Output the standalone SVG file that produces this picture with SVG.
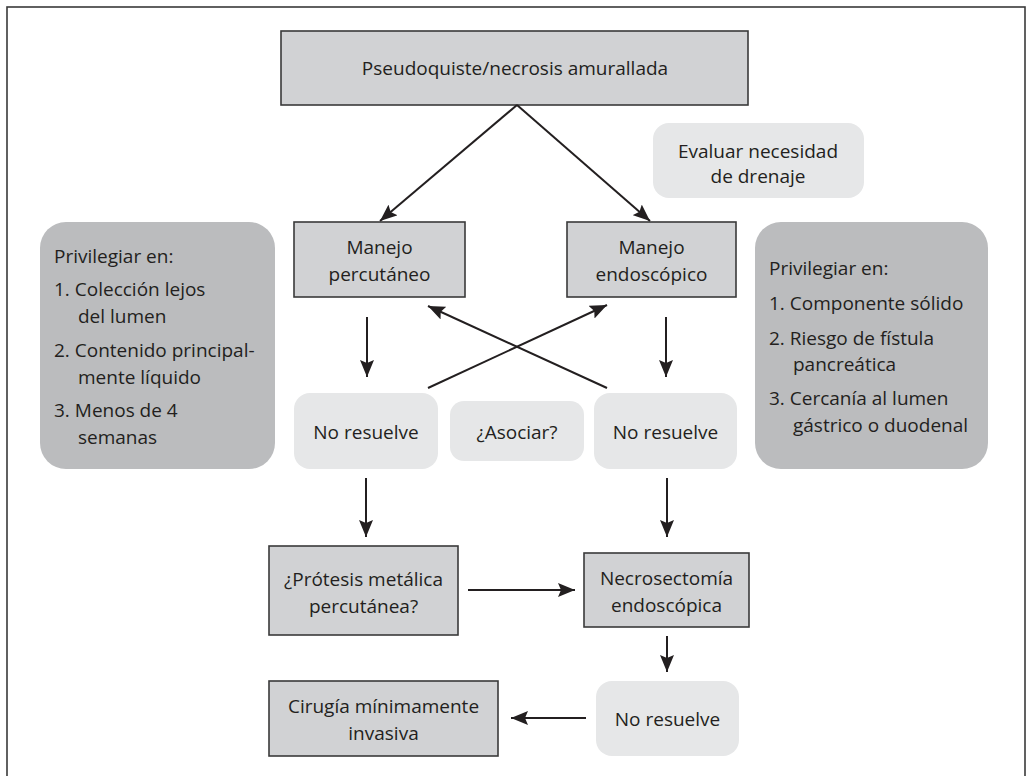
<svg xmlns="http://www.w3.org/2000/svg" width="1028" height="776" viewBox="0 0 1028 776">
<defs>
<style>
.box{fill:#d1d2d4;stroke:#3a3a3a;stroke-width:1.6}
.light{fill:#e6e7e8}
.side{fill:#bbbcbe}
text{font-family:"Open Sans","Noto Sans","Liberation Sans",sans-serif;font-size:19px;fill:#231f20}
.c{text-anchor:middle}
.con{stroke:#231f20;stroke-width:2;fill:none;marker-end:url(#ah)}
</style>
<marker id="ah" markerUnits="userSpaceOnUse" markerWidth="18" markerHeight="14" refX="17" refY="7" orient="auto">
<path d="M0,0 L17,7 L0,14 L3,7 Z" fill="#231f20"/>
</marker>
</defs>
<rect x="7" y="7" width="1018" height="800" fill="#fff" stroke="#3a3a3a" stroke-width="1.6"/>
<g id="n-top">
<rect class="box" x="281" y="31" width="467" height="74"/>
<text class="c" x="515" y="75">Pseudoquiste/necrosis amurallada</text>
</g>
<g id="n-evaluar">
<rect class="light" x="653" y="123" width="211" height="75" rx="16"/>
<text class="c" x="758" y="158">Evaluar necesidad</text>
<text class="c" x="758" y="183">de drenaje</text>
</g>
<g id="n-left-info">
<rect class="side" x="40" y="222" width="235" height="247" rx="26"/>
<text x="54" y="263">Privilegiar en:</text>
<text x="54" y="296">1. Colección lejos</text>
<text x="78" y="323">del lumen</text>
<text x="54" y="357">2. Contenido principal-</text>
<text x="78" y="384">mente líquido</text>
<text x="54" y="417">3. Menos de 4</text>
<text x="78" y="444">semanas</text>
</g>
<g id="n-right-info">
<rect class="side" x="755" y="222" width="233" height="247" rx="26"/>
<text x="769" y="275">Privilegiar en:</text>
<text x="769" y="310">1. Componente sólido</text>
<text x="769" y="345">2. Riesgo de fístula</text>
<text x="793" y="371">pancreática</text>
<text x="769" y="405">3. Cercanía al lumen</text>
<text x="793" y="432">gástrico o duodenal</text>
</g>
<g id="n-percutaneo">
<rect class="box" x="294" y="222" width="171" height="75"/>
<text class="c" x="379.5" y="254">Manejo</text>
<text class="c" x="379.5" y="281">percutáneo</text>
</g>
<g id="n-endoscopico">
<rect class="box" x="567" y="222" width="169" height="75"/>
<text class="c" x="651.5" y="254">Manejo</text>
<text class="c" x="651.5" y="281">endoscópico</text>
</g>
<g id="n-noresuelve-l">
<rect class="light" x="294" y="393" width="144" height="76" rx="16"/>
<text class="c" x="366" y="439">No resuelve</text>
</g>
<g id="n-asociar">
<rect class="light" x="450" y="401" width="134" height="60" rx="14"/>
<text class="c" x="517" y="439">¿Asociar?</text>
</g>
<g id="n-noresuelve-r">
<rect class="light" x="594" y="393" width="143" height="76" rx="16"/>
<text class="c" x="665.5" y="439">No resuelve</text>
</g>
<g id="n-protesis">
<rect class="box" x="269" y="546" width="189" height="89"/>
<text class="c" x="363.5" y="586">¿Prótesis metálica</text>
<text class="c" x="363.5" y="613">percutánea?</text>
</g>
<g id="n-necrosectomia">
<rect class="box" x="584" y="553" width="165" height="74"/>
<text class="c" x="666.5" y="585">Necrosectomía</text>
<text class="c" x="666.5" y="612">endoscópica</text>
</g>
<g id="n-cirugia">
<rect class="box" x="269" y="681" width="229" height="75"/>
<text class="c" x="383.5" y="713">Cirugía mínimamente</text>
<text class="c" x="383.5" y="740">invasiva</text>
</g>
<g id="n-noresuelve-b">
<rect class="light" x="596" y="681" width="143" height="75" rx="16"/>
<text class="c" x="667.5" y="726">No resuelve</text>
</g>
<g id="connectors">
<path class="con" d="M517,105 L380,221"/>
<path class="con" d="M517,105 L650,221"/>
<path class="con" d="M367,317 L367,377"/>
<path class="con" d="M666,317 L666,377"/>
<path class="con" d="M428,388 L607,305"/>
<path class="con" d="M607,388 L428,306"/>
<path class="con" d="M366,478 L366,537"/>
<path class="con" d="M667,478 L667,537"/>
<path class="con" d="M468,590 L575,590"/>
<path class="con" d="M667,636 L667,672"/>
<path class="con" d="M586,718 L511,718"/>
</g>
</svg>
